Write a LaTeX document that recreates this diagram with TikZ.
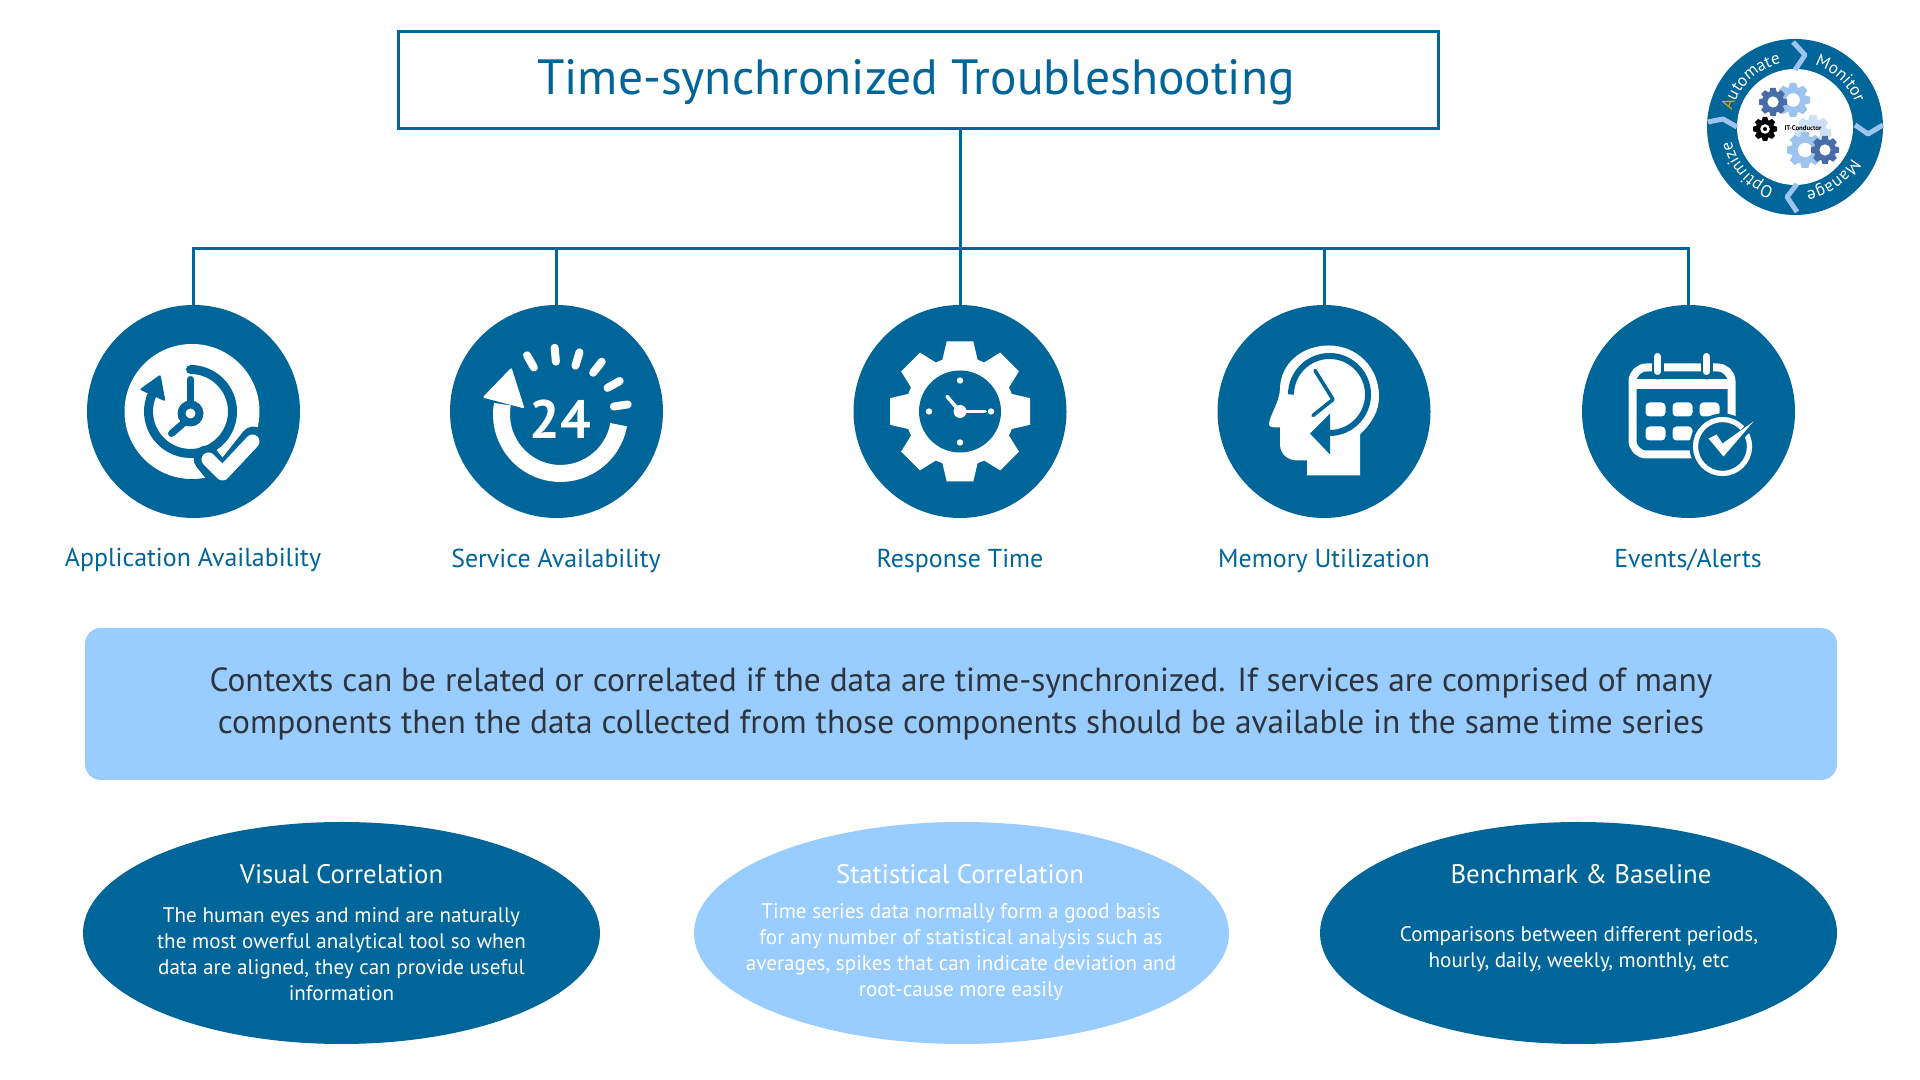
\documentclass[tikz,border=0pt]{standalone}
\usepackage{fontspec}
\setmainfont{PT Sans}
\usetikzlibrary{decorations.text,shapes.geometric}
\definecolor{navy}{RGB}{0,101,153}
\definecolor{sky}{RGB}{153,204,255}
\definecolor{ink}{RGB}{45,52,60}
\definecolor{gold}{RGB}{214,170,30}
\definecolor{cogdark}{RGB}{72,108,165}
\definecolor{coglight}{RGB}{157,196,238}
\definecolor{cogpale}{RGB}{205,224,245}
\newcommand{\fsz}[2]{\fontsize{#1}{#2}\selectfont}
\newcommand{\rf}{\color{white}\fsz{8.6}{9}}
\tikzset{
  x=0.5pt,y=0.5pt,
  wire/.style={draw=navy,line width=1.5pt},
  disc/.style={circle,fill=navy,minimum size=106.5pt,inner sep=0pt},
  caption/.style={text=navy,font=\fsz{12.95}{14},inner sep=0pt,anchor=base},
  topbox/.style={draw=navy,line width=1.5pt,fill=white,minimum width=520pt,minimum height=48.5pt,inner sep=0pt},
  titletext/.style={text=navy,font=\fsz{24.75}{28},inner sep=0pt,anchor=base},
  bandbox/.style={rounded corners=8pt,fill=sky,minimum width=876pt,minimum height=76pt,inner sep=0pt,text=ink,align=center,font=\fsz{16.7}{20.8}},
  oval/.style={ellipse,minimum width=258.5pt,minimum height=111pt,inner sep=0pt},
  ovalhead/.style={text=white,font=\fsz{13.4}{15},inner sep=0pt,anchor=base},
  ovalbody/.style={text=white,font=\fsz{10.55}{13},align=center,inner sep=0pt},
  wl/.style={line width=#1,draw=white,line cap=round,line join=round},
  bl/.style={line width=#1,draw=navy,line cap=round,line join=round},
  sep/.style={draw=coglight,line width=2.5pt,line join=round},
}
% gear: #1 colour, #2 radius, #3 hole colour
\newcommand{\cog}[3]{%
  \fill[#1] (0,0) circle[radius=0.78*#2];
  \foreach \a in {0,45,...,315}{%
    \fill[#1,rotate=\a] (-0.26*#2,0.7*#2) -- (-0.19*#2,#2) -- (0.19*#2,#2) -- (0.26*#2,0.7*#2) -- cycle;}
  \fill[#3] (0,0) circle[radius=0.4*#2];
}
\begin{document}
\begin{tikzpicture}
\useasboundingbox (0,0) rectangle (1920,1080);
\fill[white] (0,0) rectangle (1920,1080);
% nodes
\node[topbox] (title) at (918.5,1000) {};
\node[titletext] (titlet) at (916,985) {Time-synchronized Troubleshooting};
\coordinate (hub) at (960,831.5);
\node[disc] (c1) at (193.5,668.5) {};
\node[disc] (c2) at (556.5,668.5) {};
\node[disc] (c3) at (960,668.5) {};
\node[disc] (c4) at (1324,668.5) {};
\node[disc] (c5) at (1688.5,668.5) {};
\coordinate (j1) at (c1|-hub);
\coordinate (j2) at (c2|-hub);
\coordinate (j4) at (c4|-hub);
\coordinate (j5) at (c5|-hub);
\draw[wire] (c3.north|-title.south) -- (c3.north);
\draw[wire] (c1.north) -- (j1) -- (j5) -- (c5.north);
\draw[wire] (c2.north) -- (j2);
\draw[wire] (c4.north) -- (j4);
% captions
\node[caption] (t1) at (193,513) {Application Availability};
\node[caption] (t2) at (556,512) {Service Availability};
\node[caption] (t3) at (960,512) {Response Time};
\node[caption] (t4) at (1324,512) {Memory Utilization};
\node[caption] (t5) at (1688,512) {Events/Alerts};
% band
\node[bandbox] (band) at (961,376) {Contexts can be related or correlated if the data are time-synchronized. If services are comprised of many\\components then the data collected from those components should be available in the same time series};
% ovals
\node[oval,fill=navy] (o1) at (341.5,147) {};
\node[oval,fill=sky,minimum width=267.5pt] (o2) at (961.5,147) {};
\node[oval,fill=navy] (o3) at (1578.5,147) {};
\node[ovalhead] (h1) at (341.5,196) {Visual Correlation};
\node[ovalbody] (b1) at (341.5,125.5) {The human eyes and mind are naturally\\the most owerful analytical tool so when\\data are aligned, they can provide useful\\information};
\node[ovalhead] (h2) at (960,196) {Statistical Correlation};
\node[ovalbody] (b2) at (961,127.5) {Time series data normally form a good basis\\for any number of statistical analysis such as\\averages, spikes that can indicate deviation and\\root-cause more easily};
\node[ovalhead] (h3) at (1581,196) {Benchmark \& Baseline};
\node[ovalbody] (b3) at (1579,131) {Comparisons between different periods,\\hourly, daily, weekly, monthly, etc};
% icon 1
\begin{scope}[shift={(c1.center)}]
  \fill[white] (-1.5,0) circle[radius=67.5];
  \draw[bl=4.5pt] (-3,42) arc[start angle=90,end angle=-205,radius=42];
  \fill[navy,rounded corners=1pt] (-54,22) -- (-33,37) -- (-28,10) -- cycle;
  \draw[bl=3.5pt] (-3,32) -- (-3,8);
  \draw[bl=3.5pt] (-8,-10) -- (-22,-22);
  \fill[navy] (-3,-2) circle[radius=13];
  \fill[white] (-3,-2) circle[radius=5];
  \draw[bl=13pt] (13,-47) -- (29,-67) -- (60,-28);
  \draw[wl=7pt] (15,-48) -- (29,-62) -- (59,-30);
\end{scope}
% icon 2
\begin{scope}[shift={(c2.center)}]
  \draw[white,line width=8.5pt] (62.1,-13.2) arc[start angle=-10,end angle=-190,radius=59];
  \fill[white,rounded corners=1pt] (-45,44) -- (-74,14) -- (-32,3) -- cycle;
  \foreach \a/\r in {119.5/61,95/60,73/58,52/60,29.5/61,8.5/61}{%
    \draw[wl=4pt] ([shift={(4,-3)}]\a:\r-7) -- ([shift={(4,-3)}]\a:\r+7);}
  \node[text=white,font=\bfseries\fsz{27}{27},inner sep=0pt] (n24) at (4,-8) {24};
\end{scope}
% icon 3
\begin{scope}[shift={(c3.center)}]
  \cog{white}{70}{white}
  \fill[navy] (0,0) circle[radius=41];
  \foreach \a in {0,90,180,270}{\fill[white] (\a:31) circle[radius=3.2];}
  \fill[white] (0,0) circle[radius=6.5];
  \draw[wl=1.8pt] (0,0) -- (25,0);
  \draw[wl=1.8pt] (0,0) -- (-13,15);
\end{scope}
% icon 4
\begin{scope}[shift={(c4.center)}]
  \fill[white] (36,-64) -- (36,-23) .. controls (48,-11) and (55,0) .. (55,15)
     .. controls (55,45) and (32,66) .. (5,66)
     .. controls (-22,66) and (-44,48) .. (-44,22)
     .. controls (-45,8) and (-55,-5) .. (-55,-13)
     .. controls (-55,-16) and (-50,-16) .. (-44,-16)
     -- (-44,-33) .. controls (-44,-43) and (-36,-49) .. (-26,-49)
     -- (-17,-49) -- (-17,-64) -- cycle;
  \draw[navy,line width=3pt] (-33,17) arc[start angle=180,end angle=-90,radius=38.5];
  \fill[navy] (6,-2) -- (-14,-22) -- (6,-43) -- cycle;
  \draw[bl=1.8pt] (-9,41) -- (9,12) -- (-11,-4);
\end{scope}
% icon 5
\begin{scope}[shift={(c5.center)}]
  \draw[white,line width=4pt,rounded corners=7pt] (-56,-43) rectangle (43,44);
  \fill[white] (-56,22) rectangle (43,32);
  \foreach \x in {-31,18}{\draw[bl=6pt] (\x,38) -- (\x,57); \draw[wl=3.5pt] (\x,40) -- (\x,55);}
  \foreach \x/\y in {-33/2,-6/2,21/2,-33/-22,-6/-22}{%
    \fill[white,rounded corners=2pt] (\x-10,\y-7) rectangle (\x+10,\y+7);}
  \fill[navy] (34,-35) circle[radius=33];
  \draw[white,line width=2.6pt] (34,-35) circle[radius=27];
  \draw[navy,line width=4pt,line join=round] (22,-27) -- (34,-43) -- (64,-12);
  \fill[white] (20,-27) -- (28,-23) -- (34,-32) -- (65,-10) -- (35,-45) -- cycle;
\end{scope}
% logo
\begin{scope}[shift={(1795,953)}]
  \fill[navy] (0,0) circle[radius=88];
  \fill[white] (0,0) circle[radius=58];
  \draw[sep] (-2,85) -- (10,72) -- (0,57);
  \draw[sep] (60,2) -- (73,-7) -- (88,2);
  \draw[sep] (2,-57) -- (-8,-70) -- (2,-85);
  \draw[sep] (-87,5) -- (-72,8) -- (-58,0);
  \path[decoration={text along path,text align=center,text={|\fsz{8.6}{9}\color{gold}|A|\rf|utomate}},decorate] (174:65) arc[start angle=174,end angle=94,radius=65];
  \path[decoration={text along path,text align=center,text={|\rf|Monitor}},decorate] (88:65) arc[start angle=88,end angle=6,radius=65];
  \path[decoration={text along path,text align=center,text={|\rf|Manage}},decorate] (-18:65) arc[start angle=-18,end angle=-91,radius=65];
  \path[decoration={text along path,text align=center,text={|\rf|Optimize}},decorate] (-97:65) arc[start angle=-97,end angle=-179,radius=65];
  \begin{scope}[shift={(18,-6)}] \cog{cogpale}{18}{white} \end{scope}
  \begin{scope}[shift={(-2,27)}] \cog{coglight}{17}{white} \end{scope}
  \begin{scope}[shift={(-22,25)}] \cog{cogdark}{14}{white} \end{scope}
  \begin{scope}[shift={(10,-23)}] \cog{coglight}{18}{white} \end{scope}
  \begin{scope}[shift={(30,-23)}] \cog{cogdark}{14}{white} \end{scope}
  \begin{scope}[shift={(-30,-2)}] \cog{black}{12}{white} \fill[black] (0,0) circle[radius=2]; \end{scope}
  \node[text=black,font=\bfseries\fsz{3.4}{4},inner sep=0pt] (itc) at (8,-1) {IT-Conductor};
\end{scope}
\end{tikzpicture}
\end{document}
